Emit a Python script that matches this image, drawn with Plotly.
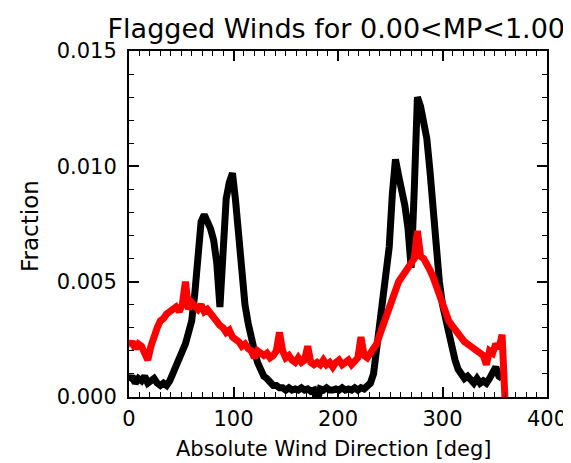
import plotly.graph_objects as go

# Wind direction bins (deg), step 3
direction = list(range(0, 360, 3))

# Black series: fraction (x1e-3)
black_vals = [
    0.7, 0.9, 0.6, 0.8, 0.7, 0.9, 0.6, 0.7, 0.8, 0.6,
    0.5, 0.6, 0.5, 0.7, 1.0, 1.3, 1.6, 2.0, 2.3, 2.8,
    3.3, 4.5, 6.2, 7.6, 7.9, 7.6, 7.3, 6.8, 5.8, 3.9,
    6.5, 8.6, 9.3, 9.7, 8.5, 6.8, 5.2, 4.0, 3.2, 2.5,
    2.0, 1.5, 1.2, 0.9, 0.8, 0.6, 0.5, 0.5, 0.4, 0.4,
    0.3, 0.4, 0.3, 0.35, 0.3, 0.4, 0.3, 0.35, 0.25, 0.3,
    -0.2, 0.35, 0.3, 0.4, 0.3, 0.3, 0.35, 0.3, 0.4, 0.3,
    0.35, 0.3, 0.4, 0.3, 0.4, 0.35, 0.5, 0.6, 1.0, 2.0,
    3.2, 4.5, 5.0, 6.5, 8.8, 10.3, 9.6, 9.0, 8.3, 7.3,
    5.6, 9.0, 13.0, 12.6, 12.0, 11.2, 9.8, 8.0, 6.3, 5.0,
    4.0, 3.3, 2.7, 2.0, 1.6, 1.2, 1.0, 0.8, 0.9, 0.7,
    0.6, 0.8, 0.6, 0.7, 0.6, 0.8, 1.1, 1.3, 0.9, 0.8,
]

# Red series: fraction (x1e-3), last point at 360 deg
red_direction = list(range(0, 363, 3))
red_vals = [
    2.2, 2.4, 2.1, 2.3, 2.2, 1.9, 1.6, 2.2, 2.7, 3.0,
    3.3, 3.4, 3.6, 3.7, 3.8, 3.9, 3.7, 4.0, 5.0, 3.8,
    4.1, 3.9, 3.8, 4.0, 3.7, 3.8, 3.6, 3.4, 3.3, 3.1,
    3.0, 2.8, 2.9, 2.6, 2.5, 2.4, 2.2, 2.3, 2.1, 2.0,
    1.7, 2.0, 1.9, 1.8, 1.9, 1.7, 1.8, 2.0, 2.8, 2.0,
    1.7, 1.8, 1.6, 1.5, 1.7, 1.5, 1.6, 2.2, 1.5, 1.4,
    1.5, 1.4, 1.6, 1.4, 1.5, 1.3, 1.5, 1.6, 1.4, 1.5,
    1.6, 1.4, 1.6, 1.7, 2.6, 1.8, 1.7, 1.9, 2.0, 2.3,
    2.7, 3.1, 3.6, 4.0, 4.3, 4.7, 5.0, 5.2, 5.4, 5.6,
    5.8, 6.0, 7.2, 6.1, 6.0, 5.8, 5.5, 5.2, 4.8, 4.4,
    4.0, 3.6, 3.3, 3.1, 2.9, 2.7, 2.5, 2.4, 2.3, 2.2,
    2.1, 2.0, 1.9, 1.8, 1.4, 2.0, 1.9, 2.3, 2.1, 2.7,
    -0.3,
]

x_ticks = [0, 100, 200, 300, 400]
y_ticks = [0.000, 0.005, 0.010, 0.015]
y_ticklabels = ["0.000", "0.005", "0.010", "0.015"]

FONT = "DejaVu Sans"

fig = go.Figure()
fig.add_trace(go.Scatter(
    x=direction, y=[v * 1e-3 for v in black_vals], mode="lines",
    line=dict(color="black", width=7), showlegend=False))
fig.add_trace(go.Scatter(
    x=red_direction, y=[v * 1e-3 for v in red_vals], mode="lines",
    line=dict(color="#ff0000", width=7), showlegend=False))

axis_common = dict(
    showline=True, linecolor="black", linewidth=2, mirror="allticks",
    ticks="inside", ticklen=10, tickwidth=1.5, tickcolor="black",
    showgrid=False, zeroline=False,
    tickfont=dict(family=FONT, size=21, color="black"),
)

fig.update_xaxes(range=[0, 400], tickvals=x_ticks, ticklabelstandoff=2,
                 minor=dict(dtick=10, ticks="inside", ticklen=5, tickwidth=1.2,
                            tickcolor="black", showgrid=False),
                 **axis_common)
fig.update_yaxes(range=[0, 0.015], tickvals=y_ticks, ticktext=y_ticklabels,
                 ticklabelstandoff=6,
                 minor=dict(dtick=0.001, ticks="inside", ticklen=5, tickwidth=1.2,
                            tickcolor="black", showgrid=False),
                 **axis_common)

fig.update_layout(
    width=571, height=463,
    margin=dict(l=121, r=24, t=43, b=74),
    paper_bgcolor="white", plot_bgcolor="white",
    title=dict(text="Flagged Winds for 0.00<MP<1.00", x=0.575, xanchor="center",
               y=0.955, yanchor="middle", yref="container",
               font=dict(family=FONT, size=27, color="black")),
    annotations=[
        dict(text="Absolute Wind Direction [deg]", xref="paper", yref="paper",
             x=0.49, y=0, yshift=-52, xanchor="center", yanchor="middle",
             showarrow=False, font=dict(family=FONT, size=21, color="black")),
        dict(text="Fraction", xref="paper", yref="paper",
             x=0, y=0.5, xshift=-99, yshift=-2, xanchor="center", yanchor="middle",
             textangle=-90, showarrow=False,
             font=dict(family=FONT, size=23, color="black")),
    ],
)

fig.write_html("out.html")
